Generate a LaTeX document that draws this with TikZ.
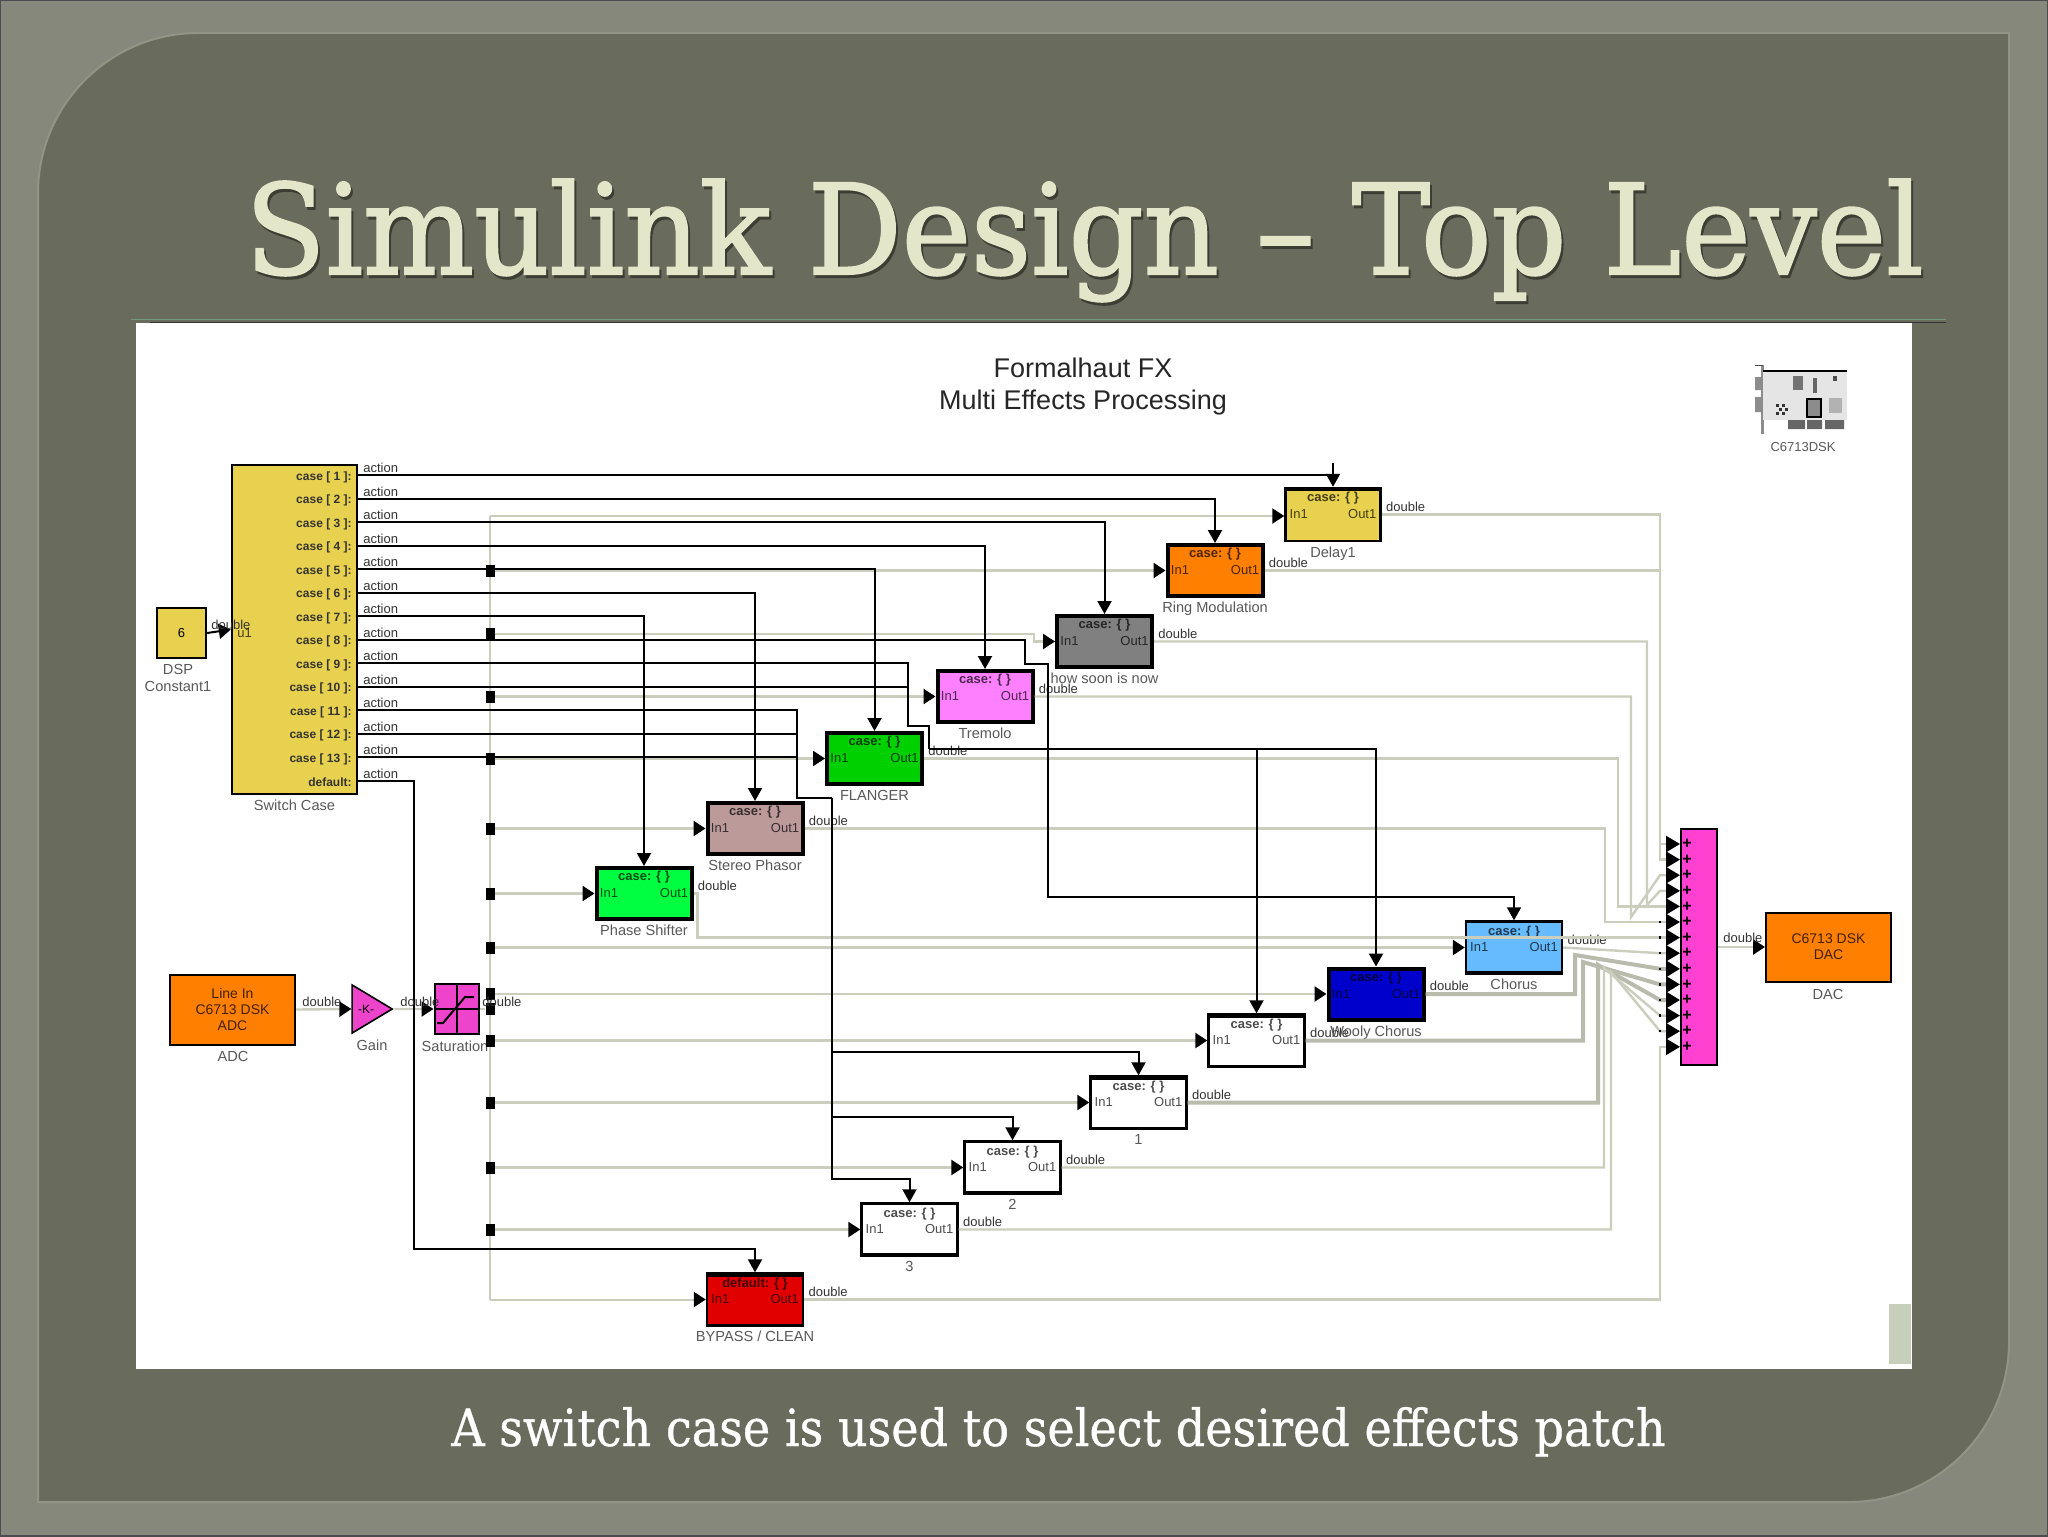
\documentclass[tikz,border=0pt]{standalone}
\usepackage{fontspec}
\setmainfont{Liberation Sans}
\newfontfamily\slabfont[FakeBold=1.6]{DejaVu Serif}
\newfontfamily\captionfont[FakeBold=0.7]{DejaVu Serif}
\usetikzlibrary{arrows.meta,positioning,shapes.geometric}
\definecolor{slateouter}{HTML}{85887A}
\definecolor{slatepanel}{HTML}{696B5D}
\definecolor{slateedge}{HTML}{929586}
\definecolor{titlecream}{HTML}{E4E6C9}
\definecolor{titleshade}{HTML}{3C3D33}
\definecolor{rulegreen}{HTML}{6F9A7C}
\definecolor{wiregrey}{HTML}{CBCEBC}
\definecolor{wiredark}{HTML}{B9BBAD}
\definecolor{paleblock}{HTML}{C5CFB9}
\definecolor{fxyellow}{HTML}{E8D14F}
\definecolor{fxorange}{HTML}{FF8000}
\definecolor{fxgrey}{HTML}{808080}
\definecolor{fxpink}{HTML}{FF80FF}
\definecolor{fxgreen}{HTML}{00D000}
\definecolor{fxmauve}{HTML}{BC9A9A}
\definecolor{fxlime}{HTML}{00FF40}
\definecolor{fxsky}{HTML}{66BBFF}
\definecolor{fxblue}{HTML}{0000CC}
\definecolor{fxred}{HTML}{E00000}
\definecolor{fxmagenta}{HTML}{EE44CC}
\definecolor{fxsum}{HTML}{FF40D0}
\tikzset{
  box/.style={draw=black, line width=1.2pt, inner sep=0pt, minimum width=48pt, minimum height=26pt},
  heavybox/.style={box, line width=2pt, minimum width=47.5pt, minimum height=25.5pt},
  plainbox/.style={draw=black, line width=1pt, inner sep=0pt, align=center, font=\fontsize{7}{8}\selectfont, text opacity=0.75},
  boxtext/.style={inner sep=2.5pt, font=\fontsize{6.5}{7}\selectfont, text opacity=0.7},
  casetext/.style={boxtext, inner sep=1pt, font=\fontsize{6.5}{7}\selectfont\bfseries, anchor=north, yshift=-1.5pt},
  namelabel/.style={inner sep=0pt, align=center, font=\fontsize{7.3}{8.3}\selectfont, text=black!65},
  siglabel/.style={inner sep=0pt, anchor=west, font=\fontsize{6.5}{7}\selectfont, text=black!80},
  actionlabel/.style={inner sep=0pt, anchor=west, font=\fontsize{6.5}{7}\selectfont, text=black!80},
  switchlabel/.style={inner sep=0pt, anchor=east, font=\fontsize{6}{7}\selectfont\bfseries, text=black!80},
  junction/.style={fill=black, inner sep=0pt, minimum width=4.5pt, minimum height=6pt},
  portdot/.style={fill=black, inner sep=0pt, minimum size=1.2pt},
  wire/.style={draw=wiregrey, line width=1.2pt},
  thickwire/.style={draw=wiredark, line width=2pt},
  trunk/.style={draw=wiregrey, line width=1pt},
  intip/.style={-{Triangle[black,length=6pt,width=7.5pt]}},
  sumtip/.style={-{Triangle[black,length=7pt,width=8pt]}},
  ctrl/.style={draw=black, line width=1pt},
  ctrltip/.style={ctrl, -{Triangle[black,length=6.5pt,width=7pt]}}
}
\begin{document}
\begin{tikzpicture}[x=0.5pt,y=-0.5pt]%
\useasboundingbox (0,0) rectangle (2048,1536);%
\fill [slateouter] (0,0) rectangle (2048,1536);%
\draw [black!70, line width=0.6pt] (0,0) rectangle (2048,1536);%
\path [
  fill=slatepanel, draw=slateedge, line width=1pt]
  (38,1502) -- (38,193) .. controls (38,105) and (110,33) .. (198,33) -- (2009,33)
  -- (2009,1342) .. controls (2009,1430) and (1937,1502) .. (1849,1502) -- cycle;%
\node [inner sep=0pt, anchor=base west, text=titleshade] (titleshadow) at (247,277) {%
  \resizebox{839pt}{47.5pt}{\slabfont Simulink Design – Top Level}};%
\node [inner sep=0pt, anchor=base west, text=titlecream] (title) at (245,274) {%
  \resizebox{839pt}{47.5pt}{\slabfont Simulink Design – Top Level}};%
\node [inner sep=0pt, anchor=base west, text=white] (caption) at (451,1446) {%
  \resizebox{607pt}{19.5pt}{\captionfont A switch case is used to select desired effects patch}};%
\draw [rulegreen, line width=0.8pt] (131,319.5) -- (1946,319.5);%
\draw [black!80, line width=0.5pt] (150,322) -- (1946,322);%
\fill [white] (136,323) rectangle (1912,1369);%
\fill [paleblock] (1889,1304) rectangle (1911,1364);%
\node [inner sep=0pt, align=center, font=\fontsize{13.5}{16}\selectfont, text=black!85] (heading) at (1083,386.5) {%
  Formalhaut FX\\
  Multi Effects Processing};%
\fill [black!45] (1755,377) rectangle (1761,390) (1755,397) rectangle (1761,412);%
\fill [black!45] (1761,365) rectangle (1763.5,434);%
\fill [black!70] (1755,365) rectangle (1763,366);%
\fill [black!10] (1763,371) rectangle (1847,420);%
\draw [black, line width=0.8pt] (1763,371) -- (1847,371);%
\fill [black!55] (1793,376) rectangle (1803,390);%
\draw [black, line width=0.6pt, fill=black!45] (1807,399) rectangle (1821,417);%
\fill [black!30] (1829,398) rectangle (1842,413);%
\fill [black!70] (1833,376) rectangle (1837,381);%
\fill [black!60] (1788,420) rectangle (1805,429) (1807,420) rectangle (1822,429) (1825,420) rectangle (1844,429);%
\fill [black!60] (1813,378) rectangle (1817,393);%
\foreach \dotx/\doty in {1776/404,1782/404,1779/408,1785/408,1776/412,1782/412}{%
  \fill [black!80] (\dotx,\doty) rectangle ++(3,3);}%
\node [namelabel, font=\fontsize{6.5}{7}\selectfont] (cardlabel) at (1803,447) {C6713DSK};%
%
\node [box, fill=fxyellow, minimum width=24.5pt, minimum height=25pt, font=\fontsize{6.5}{7}\selectfont] (constant) at (181.5,633) {6};%
\node [box, fill=fxyellow, minimum width=62.5pt, minimum height=164.5pt] (switch) at (294.5,629.5) {};%
\node [box, fill=fxyellow, minimum width=47.5pt, minimum height=26.5pt] (delay) at (1333,514.5) {};%
\node [heavybox, fill=fxorange] (ring) at (1215,570.5) {};%
\node [heavybox, fill=fxgrey] (howsoon) at (1104.5,641.5) {};%
\node [heavybox, fill=fxpink] (tremolo) at (985,696.5) {};%
\node [heavybox, fill=fxgreen] (flanger) at (874.5,758.5) {};%
\node [heavybox, fill=fxmauve] (phasor) at (755,828.5) {};%
\node [heavybox, fill=fxlime] (shifter) at (644,893.5) {};%
\node [box, fill=fxsky] (chorus) at (1514,947.5) {};%
\node [heavybox, fill=fxblue] (wooly) at (1376,994) {};%
\node [box, fill=white] (plainx) at (1256.5,1040.5) {};%
\node [box, fill=white] (plaina) at (1138.5,1102.5) {};%
\node [box, fill=white] (plainb) at (1012.5,1167.5) {};%
\node [box, fill=white] (plainc) at (909.5,1229.5) {};%
\node [box, fill=fxred] (bypass) at (755,1299.5) {};%
\foreach \blk in {delay,plainx,plaina,bypass}{%
  \draw [black, line width=2.2pt] ([yshift=-1pt]\blk.north west) -- ([yshift=-1pt]\blk.north east);%
}%
\foreach \blk in {chorus,plainb,plainc}{%
  \draw [black, line width=2.2pt] ([yshift=1pt]\blk.south west) -- ([yshift=1pt]\blk.south east);%
}%
\foreach \blk/\kind in {delay/case,ring/case,howsoon/case,tremolo/case,flanger/case,phasor/case,shifter/case,chorus/case,wooly/case,plainx/case,plaina/case,plainb/case,plainc/case,bypass/default}{%
  \node [casetext] (\blk case) at (\blk.north) {\kind: \{ \}};%
  \node [boxtext, anchor=west] (\blk in) at (\blk.west) {In1};%
  \node [boxtext, anchor=east] (\blk out) at (\blk.east) {Out1};%
  \node [siglabel] (\blk sig) at ([shift={(4,-8)}]\blk.east) {double};%
}%
\foreach \blk/\txt in {delay/Delay1,ring/Ring Modulation,howsoon/how soon is now,tremolo/Tremolo,flanger/FLANGER,phasor/Stereo Phasor,shifter/Phase Shifter,chorus/Chorus,wooly/Wooly Chorus,plaina/1,plainb/2,plainc/3,bypass/{BYPASS / CLEAN},switch/Switch Case}{%
  \node [namelabel, below=2pt of \blk] (\blk label) {\txt};%
}%
\node [namelabel] (constantlabel) at (178,678) {DSP\\Constant1};%
%
\node [plainbox, fill=fxorange, minimum width=62.5pt, minimum height=35pt] (adc) at (232.5,1009.5) {Line In\\C6713 DSK\\ADC};%
\node [
  isosceles triangle, isosceles triangle stretches, draw=black, line width=0.8pt, fill=fxmagenta, inner sep=0pt,
  minimum width=24pt, minimum height=20pt, font=\fontsize{6}{7}\selectfont] (gain) at (366,1009) {-K-};%
\node [draw=black, line width=1pt, fill=fxmagenta, inner sep=0pt, minimum width=22pt, minimum height=25pt] (saturate) at (456.5,1009) {};%
\node [plainbox, fill=fxorange, minimum width=62.5pt, minimum height=34.5pt] (dac) at (1828.5,947) {C6713 DSK\\DAC};%
\node [draw=black, line width=1pt, fill=fxsum, inner sep=0pt, minimum width=18pt, minimum height=118pt] (sum) at (1698.5,947) {};%
\draw [black, line width=1pt] (saturate.north) -- (saturate.south) (saturate.west) -- (saturate.east);%
\draw [black, line width=1pt] (437,1023) -- (443,1023) -- (465,997) -- (474,997);%
\node [namelabel] (adclabel) at (233,1056) {ADC};%
\node [namelabel] (gainlabel) at (372,1045) {Gain};%
\node [namelabel] (saturatelabel) at (455,1046) {Saturation};%
\node [namelabel] (daclabel) at (1828,994) {DAC};%
%
\foreach \txt [count=\i] in {case [ 1 ]:,case [ 2 ]:,case [ 3 ]:,case [ 4 ]:,case [ 5 ]:,case [ 6 ]:,case [ 7 ]:,case [ 8 ]:,case [ 9 ]:,case [ 10 ]:,case [ 11 ]:,case [ 12 ]:,case [ 13 ]:,default:}{%
  \pgfmathsetmacro\casey{475+(\i-1)*23.5}%
  \coordinate (sw\i) at (358,\casey);%
  \node [switchlabel] (case\i) at (352,\casey+2) {\txt};%
  \node [actionlabel] (action\i) at (363,\casey-7) {action};%
}%
\foreach \i in {1,...,14}{%
  \pgfmathsetmacro\sumy{844+(\i-1)*15.6}%
  \coordinate (s\i) at (1680,\sumy);%
  \node [inner sep=0pt, font=\fontsize{8}{8}\selectfont\bfseries] (plus\i) at (1687,\sumy) {+};%
}%
%
\coordinate (railtop) at (490,516);%
\coordinate (railbottom) at (490,0 |- bypass.west);%
\coordinate (rail) at (1660,0);%
\draw [trunk] (railbottom) -- (railtop);%
\draw [trunk, intip] (railtop) -- (railtop -| delay.west);%
\draw [trunk, intip] (railbottom) -- (bypass.west);%
\foreach \blk in {ring,tremolo,flanger,phasor,shifter,chorus,wooly,plainx,plaina,plainb,plainc}{%
  \node [junction] (j\blk) at (railtop |- \blk.west) {};%
  \draw [wire, intip] (j\blk) -- (\blk.west);%
}%
\node [junction] (jhowsoon) at (490,634) {};%
\node [junction] (jsaturate) at (490,1009) {};%
\draw [wire, intip] (jhowsoon) -- (1034,634) -- (1034,0 |- howsoon.west) -- (howsoon.west);%
\draw [wire] (saturate.east) -- (jsaturate);%
\draw [wire, intip] (adc.east) -- (gain.west);%
\draw [wire, intip] (gain.east) -- (saturate.west);%
\draw [wire, intip] (sum.east) -- (dac.west);%
\draw [ctrl, intip] (constant.east) -- (switch.west);%
%
\draw [wire, sumtip] (delay.east) -| (rail |- s2) -- (s2);%
\draw [wire, sumtip] (ring.east) -| (rail |- s1) -- (s1);%
\draw [wire, sumtip] (howsoon.east) -| (1647,905) -- (rail |- s4) -- (s4);%
\draw [wire, sumtip] (tremolo.east) -| (1631,917) -- (rail |- s3) -- (s3);%
\draw [wire, sumtip] (flanger.east) -| (1618,0 |- s5) -- (s5);%
\draw [wire, sumtip] (phasor.east) -| (1605,0 |- s6) -- (s6);%
\draw [wire, sumtip] (shifter.east) -- ++(4,0) |- (s7);%
\draw [wire, sumtip] (chorus.east) -- (rail |- s8) -- (s8);%
\draw [thickwire, sumtip] (wooly.east) -| (1575,955) -- (rail |- s9) -- (s9);%
\draw [thickwire, sumtip] (plainx.east) -| (1583,962) -- (rail |- s10) -- (s10);%
\draw [thickwire, sumtip] (plaina.east) -| (1598,965) -- (rail |- s11) -- (s11);%
\draw [wire, sumtip] (plainb.east) -| (1604,968) -- (rail |- s12) -- (s12);%
\draw [wire, sumtip] (plainc.east) -| (1611,972) -- (rail |- s13) -- (s13);%
\draw [wire, sumtip] (bypass.east) -| (rail |- s14) -- (s14);%
\foreach \i in {6,...,13}{%
  \node [portdot] (dot\i) at (rail |- s\i) {};%
}%
%
\draw [ctrltip] (delay.north |- 0,463) -- (delay.north);%
\draw [ctrl] (sw1) -- (sw1 -| delay.north);%
\draw [ctrltip] (sw2) -| (ring.north);%
\draw [ctrltip] (sw3) -| (howsoon.north);%
\draw [ctrltip] (sw4) -| (tremolo.north);%
\draw [ctrltip] (sw5) -| (flanger.north);%
\draw [ctrltip] (sw6) -| (phasor.north);%
\draw [ctrltip] (sw7) -| (shifter.north);%
\draw [ctrltip] (sw8) -- ++(667,0) -- ++(0,24) -- ++(23,0) -- ++(0,233) -| (chorus.north);%
\coordinate (busa) at (908,726);%
\coordinate (busb) at (929,749);%
\draw [ctrl] (sw9) -| (busa) -| (busb);%
\draw [ctrl] (sw10) -- (sw10 -| busa);%
\draw [ctrltip] (busb) -| (wooly.north);%
\draw [ctrltip] (busb -| plainx.north) -- (plainx.north);%
\coordinate (busc) at (797,798);%
\coordinate (busd) at (832,798);%
\draw [ctrl] (sw11) -| (busc) -- (busd);%
\draw [ctrl] (sw12) -- (sw12 -| busc);%
\draw [ctrl] (sw13) -- (sw13 -| busc);%
\draw [ctrltip] (busd) |- (1012.5,1117) -- (plainb.north);%
\draw [ctrltip] (busd) |- (1138.5,1052) -- (plaina.north);%
\draw [ctrltip] (busd) |- (909.5,1179) -- (plainc.north);%
\draw [ctrltip] (sw14) -| (414,1249) -| (bypass.north);%
%
\node [siglabel] (constantsig) at (211,625) {double};%
\node [boxtext, inner sep=0pt, anchor=west] (switchin) at (237,633) {u1};%
\node [siglabel] (adcsig) at (302,1002) {double};%
\node [siglabel] (gainsig) at (400,1002) {double};%
\node [siglabel] (saturatesig) at (482,1002) {double};%
\node [siglabel] (sumsig) at (1723,938) {double};%
\end{tikzpicture}
\end{document}
